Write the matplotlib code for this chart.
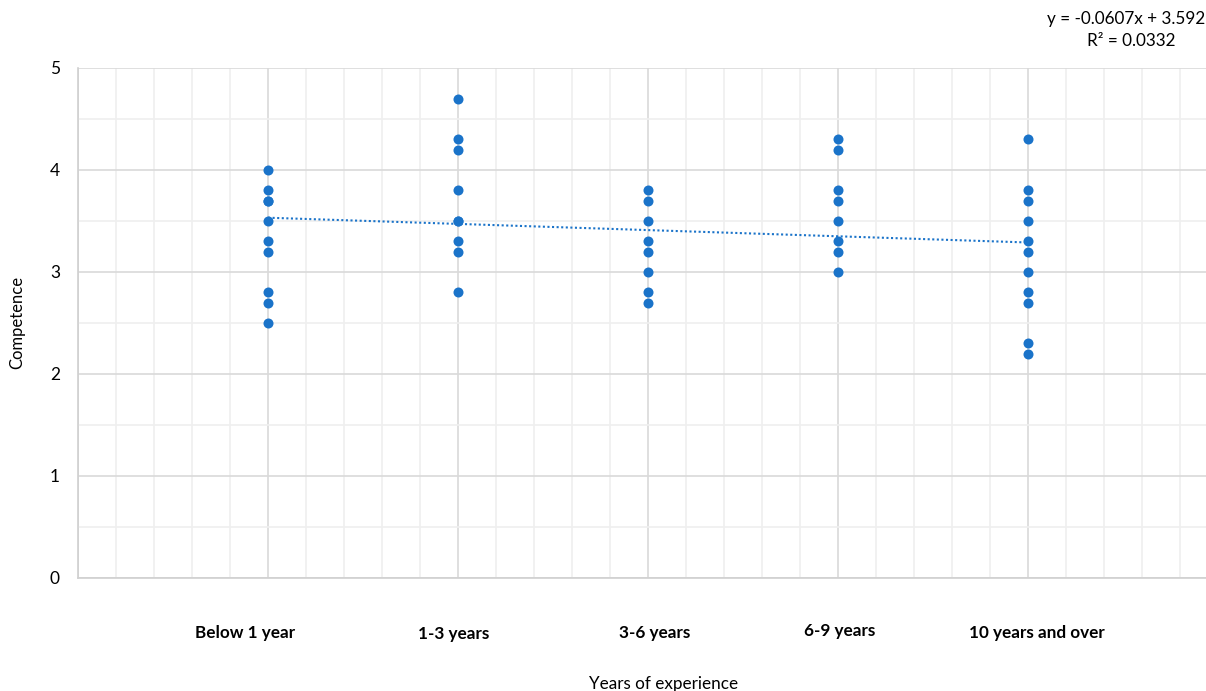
import matplotlib
matplotlib.use("Agg")
import matplotlib.pyplot as plt
from matplotlib.ticker import MultipleLocator
import numpy as np

categories = ["Below 1 year", "1-3 years", "3-6 years", "6-9 years", "10 years and over"]
group_x = [1, 2, 3, 4, 5]
below_1 = [4.0, 3.8, 3.7, 3.7, 3.5, 3.3, 3.2, 2.8, 2.7, 2.5]
yrs_1_3 = [4.7, 4.3, 4.2, 3.8, 3.5, 3.5, 3.3, 3.2, 2.8]
yrs_3_6 = [3.8, 3.7, 3.5, 3.3, 3.2, 3.0, 2.8, 2.7]
yrs_6_9 = [4.3, 4.2, 3.8, 3.7, 3.5, 3.3, 3.2, 3.0]
yrs_10p = [4.3, 3.8, 3.7, 3.5, 3.3, 3.2, 3.0, 2.8, 2.7, 2.3, 2.2]
slope, intercept, r2 = -0.0607, 3.5929, 0.0332

series = [below_1, yrs_1_3, yrs_3_6, yrs_6_9, yrs_10p]
blue = "#1a73c9"

W, H = 1206, 691
fig = plt.figure(figsize=(W / 100, H / 100), dpi=100)
x0, x1, y0, y1 = 78, 1218, 68, 578
ax = fig.add_axes([x0 / W, 1 - y1 / H, (x1 - x0) / W, (y1 - y0) / H])

xs = np.concatenate([[gx] * len(s) for gx, s in zip(group_x, series)])
ys = np.concatenate(series)
ax.scatter(xs, ys, s=52, color=blue, zorder=3, linewidths=0)

tx = np.array([min(group_x), max(group_x)])
ax.plot(tx, slope * tx + intercept, color=blue, lw=1.5, ls=(0, (1, 1.2)), zorder=2)

ax.set_xlim(0, 6)
ax.set_ylim(0, 5)
ax.xaxis.set_major_locator(MultipleLocator(1))
ax.xaxis.set_minor_locator(MultipleLocator(0.2))
ax.yaxis.set_major_locator(MultipleLocator(1))
ax.yaxis.set_minor_locator(MultipleLocator(0.5))
ax.grid(which="major", color="#d9d9d9", lw=1.2, zorder=0)
ax.grid(which="minor", color="#efefef", lw=1.2, zorder=0)
ax.set_axisbelow(True)
ax.tick_params(which="both", length=0)
ax.tick_params(axis="y", pad=13, labelsize=12.5, labelcolor="#000000")
ax.set_xticklabels([])
for s in ["top", "right"]:
    ax.spines[s].set_visible(False)
for s in ["left", "bottom"]:
    ax.spines[s].set_color("#d0d0d0")
    ax.spines[s].set_linewidth(1.2)

font = "Lato"
for lab in ax.get_yticklabels():
    lab.set_fontfamily(font)

# category labels (text boxes below axis)
label_px = [(245, 633), (454, 634), (655, 633), (840, 631), (1037, 633)]
for name, (px, py) in zip(categories, label_px):
    fig.text(px / W, 1 - py / H, name, ha="center", va="center",
             fontsize=12.3, fontweight="bold", family=font)

fig.text(664 / W, 1 - 684 / H, "Years of experience", ha="center", va="center",
         fontsize=12.3, family=font)
fig.text(17 / W, 1 - 322 / H, "Competence", ha="center", va="center",
         rotation=90, fontsize=12, family=font)

fig.text(1131 / W, 1 - 19 / H, f"y = {slope:.4f}x + {intercept:.4f}", ha="center",
         va="center", fontsize=12.3, family=font)
fig.text(1131 / W, 1 - 41 / H, f"R² = {r2:.4f}", ha="center", va="center",
         fontsize=12.3, family=font)

fig.savefig("out.png", dpi=100)
